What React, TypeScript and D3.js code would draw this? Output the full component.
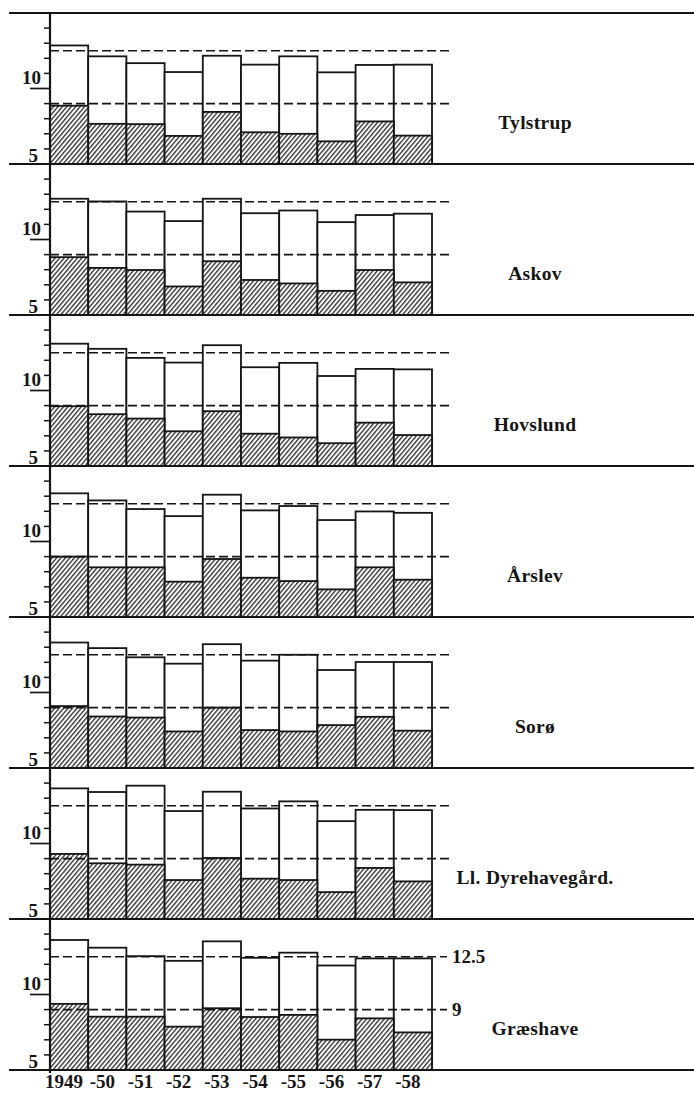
import { useRef, useEffect } from "react";
import { select, scaleBand, scaleLinear } from "d3";

// years along the bottom
const years = ["1949", "-50", "-51", "-52", "-53", "-54", "-55", "-56", "-57", "-58"];

const stations = ["Tylstrup", "Askov", "Hovslund", "Årslev", "Sorø", "Ll. Dyrehavegård.", "Græshave"];

// total height of each bar (white + hatched)
const tylstrupTotal = [12.85, 12.13, 11.68, 11.09, 12.17, 11.58, 12.13, 11.07, 11.56, 11.58];
const askovTotal = [12.7, 12.52, 11.85, 11.22, 12.7, 11.74, 11.92, 11.15, 11.62, 11.71];
const hovslundTotal = [13.1, 12.76, 12.16, 11.85, 13.0, 11.54, 11.83, 10.96, 11.43, 11.4];
const aarslevTotal = [13.19, 12.72, 12.15, 11.68, 13.1, 12.06, 12.35, 11.42, 11.99, 11.9];
const soroeTotal = [13.31, 12.94, 12.33, 11.91, 13.2, 12.11, 12.5, 11.49, 12.02, 12.02];
const dyrehaveTotal = [13.65, 13.41, 13.83, 12.15, 13.43, 12.32, 12.79, 11.48, 12.23, 12.21];
const graeshaveTotal = [13.61, 13.1, 12.54, 12.23, 13.52, 12.43, 12.77, 11.92, 12.39, 12.39];

// hatched (lower) part of each bar
const tylstrupHatched = [8.86, 7.66, 7.64, 6.86, 8.45, 7.1, 7.0, 6.5, 7.82, 6.88];
const askovHatched = [8.83, 8.12, 7.98, 6.89, 8.56, 7.32, 7.09, 6.6, 7.98, 7.16];
const hovslundHatched = [8.96, 8.43, 8.14, 7.3, 8.63, 7.14, 6.89, 6.51, 7.87, 7.05];
const aarslevHatched = [9.0, 8.29, 8.29, 7.34, 8.84, 7.6, 7.38, 6.83, 8.29, 7.47];
const soroeHatched = [9.1, 8.41, 8.34, 7.42, 9.0, 7.51, 7.42, 7.84, 8.39, 7.47];
const dyrehaveHatched = [9.31, 8.69, 8.6, 7.58, 9.04, 7.67, 7.58, 6.78, 8.38, 7.49];
const graeshaveHatched = [9.38, 8.53, 8.53, 7.87, 9.09, 8.51, 8.65, 7.01, 8.42, 7.49];

const totals = [tylstrupTotal, askovTotal, hovslundTotal, aarslevTotal, soroeTotal, dyrehaveTotal, graeshaveTotal];
const hatched = [tylstrupHatched, askovHatched, hovslundHatched, aarslevHatched, soroeHatched, dyrehaveHatched, graeshaveHatched];

// dashed reference levels, labelled in the last panel
const refLines = [12.5, 9];
const refLabels = ["12.5", "9"];

const minorTicks = [6, 7, 8, 9, 11, 12, 13, 14];

const W = 694;
const H = 1093;
const TOP = 13;
const PANEL_H = 151;
const AXIS_X = 50;
const INK = "#151515";
const FONT = "'Liberation Serif', 'Times New Roman', serif";

const App = () => {
  const svgRef = useRef(null);

  useEffect(() => {
    const svg = select(svgRef.current);
    svg.selectAll("*").remove();

    // diagonal hatching
    const pattern = svg
      .append("defs")
      .append("pattern")
      .attr("id", "hatch")
      .attr("patternUnits", "userSpaceOnUse")
      .attr("width", 3.4)
      .attr("height", 10)
      .attr("patternTransform", "rotate(40)");
    pattern.append("rect").attr("width", 3.4).attr("height", 10).attr("fill", "white");
    pattern
      .append("line")
      .attr("x1", 0.7)
      .attr("x2", 0.7)
      .attr("y1", 0)
      .attr("y2", 10)
      .attr("stroke", INK)
      .attr("stroke-width", 1.2);

    const xScale = scaleBand().domain(years).range([AXIS_X, 432]).padding(0);

    stations.forEach((name, i) => {
      const bottom = TOP + PANEL_H * (i + 1);
      const yScale = scaleLinear().domain([5, 15]).range([bottom, bottom - PANEL_H]);
      const last = i === stations.length - 1;
      const g = svg.append("g");

      g.selectAll(".total")
        .data(totals[i])
        .join("rect")
        .attr("class", "total")
        .attr("x", (_, j) => xScale(years[j]))
        .attr("y", (d) => yScale(d))
        .attr("width", xScale.bandwidth())
        .attr("height", (d) => bottom - yScale(d))
        .attr("fill", "white")
        .attr("stroke", INK)
        .attr("stroke-width", 1.8);

      g.selectAll(".hatched")
        .data(hatched[i])
        .join("rect")
        .attr("class", "hatched")
        .attr("x", (_, j) => xScale(years[j]))
        .attr("y", (d) => yScale(d))
        .attr("width", xScale.bandwidth())
        .attr("height", (d) => bottom - yScale(d))
        .attr("fill", "url(#hatch)")
        .attr("stroke", INK)
        .attr("stroke-width", 1.8);

      refLines.forEach((v, k) => {
        g.append("line")
          .attr("x1", AXIS_X)
          .attr("x2", last ? 447 : 451)
          .attr("y1", yScale(v))
          .attr("y2", yScale(v))
          .attr("stroke", INK)
          .attr("stroke-width", 1.6)
          .attr("stroke-dasharray", "9 4");
        if (last) {
          g.append("text")
            .attr("x", 452)
            .attr("y", yScale(v))
            .attr("dy", "0.35em")
            .attr("font-family", FONT)
            .attr("font-weight", "bold")
            .attr("font-size", 19)
            .attr("fill", INK)
            .text(refLabels[k]);
        }
      });

      // y ticks
      g.selectAll(".tick")
        .data(minorTicks)
        .join("line")
        .attr("class", "tick")
        .attr("x1", AXIS_X - 6)
        .attr("x2", AXIS_X)
        .attr("y1", (d) => yScale(d))
        .attr("y2", (d) => yScale(d))
        .attr("stroke", INK)
        .attr("stroke-width", 1.5);
      g.append("line")
        .attr("x1", 30)
        .attr("x2", AXIS_X)
        .attr("y1", yScale(10))
        .attr("y2", yScale(10))
        .attr("stroke", INK)
        .attr("stroke-width", 1.7);

      g.append("text")
        .attr("x", 41)
        .attr("y", yScale(10) - 5)
        .attr("text-anchor", "end")
        .attr("font-family", FONT)
        .attr("font-weight", "bold")
        .attr("font-size", 19)
        .attr("fill", INK)
        .text("10");
      g.append("text")
        .attr("x", 38)
        .attr("y", yScale(5) - 2)
        .attr("text-anchor", "end")
        .attr("font-family", FONT)
        .attr("font-weight", "bold")
        .attr("font-size", 19)
        .attr("fill", INK)
        .text("5");

      // station name
      g.append("text")
        .attr("x", 535)
        .attr("y", bottom - 35)
        .attr("text-anchor", "middle")
        .attr("font-family", FONT)
        .attr("font-weight", "bold")
        .attr("font-size", 19.5)
        .attr("letter-spacing", 0.3)
        .attr("fill", INK)
        .text(name);
    });

    // panel separators
    svg
      .selectAll(".sep")
      .data(stations.map((_, i) => i).concat([stations.length]))
      .join("line")
      .attr("class", "sep")
      .attr("x1", 9)
      .attr("x2", W)
      .attr("y1", (d) => TOP + PANEL_H * d)
      .attr("y2", (d) => TOP + PANEL_H * d)
      .attr("stroke", INK)
      .attr("stroke-width", 2.2);

    // vertical axis
    svg
      .append("line")
      .attr("x1", AXIS_X)
      .attr("x2", AXIS_X)
      .attr("y1", TOP)
      .attr("y2", TOP + PANEL_H * stations.length + 3)
      .attr("stroke", INK)
      .attr("stroke-width", 2.2);

    // year labels
    svg
      .selectAll(".year")
      .data(years)
      .join("text")
      .attr("class", "year")
      .attr("x", (d) => xScale(d) + xScale.bandwidth() / 2 - 5)
      .attr("y", 1088)
      .attr("text-anchor", "middle")
      .attr("font-family", FONT)
      .attr("font-weight", "bold")
      .attr("font-size", 19)
      .attr("fill", INK)
      .text((d) => d);
  }, []);

  return (
    <svg
      ref={svgRef}
      width={W}
      height={H}
      style={{ position: "absolute", left: 0, top: 0, background: "white", display: "block" }}
    ></svg>
  );
};

export default App;
